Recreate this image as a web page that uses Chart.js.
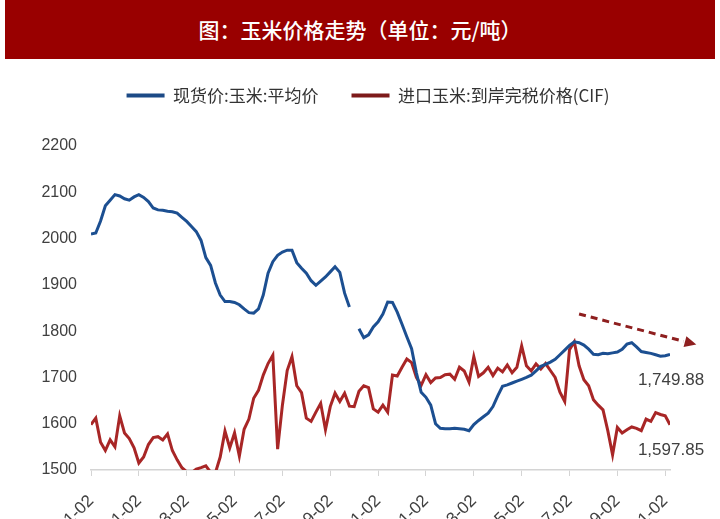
<!DOCTYPE html>
<html>
<head>
<meta charset="utf-8">
<script src="https://cdn.jsdelivr.net/npm/chart.js@4.4.0/dist/chart.umd.min.js"></script>
<style>
    html, body { margin: 0; padding: 0; background: #fff; }
    body { width: 720px; height: 519px; overflow: hidden; }
    .title {
        margin: 0 5px;
        height: 59px;
        background: #990000;
        color: #fff;
        font-family: "Noto Sans CJK SC";
        font-size: 21px;
        font-weight: 500;
        line-height: 59px;
        text-align: center;
    }
    #priceChart { display: block; }
</style>
</head>
<body>
<div class="title">图：玉米价格走势（单位：元/吨）</div>
<canvas id="priceChart" width="720" height="460"></canvas>
<script>
// x ticks every 2 months, 10 samples between two ticks
const tickLabels = ['2015-11-02', '2016-01-02', '2016-03-02', '2016-05-02', '2016-07-02', '2016-09-02', '2016-11-02',
    '2017-01-02', '2017-03-02', '2017-05-02', '2017-07-02', '2017-09-02', '2017-11-02'];
const pointsPerTick = 10;

const seriesNames = ['现货价:玉米:平均价', '进口玉米:到岸完税价格(CIF)'];

const spotPrice = [
    2010, 2012, 2038, 2071, 2083, 2095, 2092, 2086, 2083, 2090,
    2095, 2089, 2080, 2066, 2062, 2061, 2059, 2058, 2055, 2046,
    2037, 2026, 2015, 1996, 1959, 1942, 1904, 1878, 1864, 1864,
    1862, 1857, 1848, 1840, 1839, 1848, 1878, 1925, 1950, 1964,
    1971, 1975, 1975, 1948, 1936, 1925, 1909, 1899, 1908, 1917,
    1928, 1939, 1927, 1882, 1852, null, 1805, 1786, 1792, 1809,
    1820, 1837, 1863, 1862, 1841, 1815, 1788, 1762, 1710, 1668,
    1657, 1640, 1600, 1590, 1589, 1589, 1590, 1589, 1588, 1585,
    1598, 1607, 1615, 1623, 1637, 1660, 1681, 1684, 1688, 1692,
    1696, 1700, 1705, 1714, 1724, 1728, 1733, 1739, 1749, 1759,
    1769, 1777, 1775, 1770, 1761, 1750, 1749, 1752, 1751, 1753,
    1755, 1761, 1772, 1775, 1766, 1756, 1754, 1752, 1749, 1746,
    1747, 1749.88
];

const importPrice = [
    1598, 1612, 1560, 1542, 1565, 1550, 1617, 1580, 1568, 1548,
    1515, 1528, 1555, 1570, 1572, 1565, 1578, 1542, 1522, 1505,
    1496, 1494, 1502, 1505, 1509, 1495, 1494, 1528, 1584, 1548,
    1580, 1530, 1588, 1610, 1655, 1672, 1705, 1730, 1748, 1545,
    1640, 1715, 1745, 1682, 1667, 1612, 1605, 1625, 1644, 1587,
    1637, 1666, 1648, 1666, 1638, 1637, 1670, 1682, 1678, 1632,
    1625, 1640, 1625, 1705, 1703, 1722, 1740, 1732, 1700, 1683,
    1706, 1689, 1699, 1700, 1706, 1707, 1696, 1722, 1714, 1690,
    1745, 1702, 1710, 1722, 1704, 1720, 1712, 1727, 1710, 1722,
    1768, 1725, 1714, 1729, 1718, 1730, 1715, 1700, 1668, 1648,
    1760, 1777, 1725, 1695, 1682, 1652, 1640, 1630, 1585, 1533,
    1592, 1580, 1587, 1593, 1590, 1585, 1610, 1605, 1624, 1620,
    1617, 1597.85
];

// dashed trend arrow, in data units [x index, price]
const trendFrom = [102, 1837];
const trendTo = [126.5, 1771];

const lineColors = ['#1c4f91', '#a82626'];
const legendColors = ['#1c4a86', '#7d1a1a'];
const textColor = '#404040';

const toPoints = values => values.map((v, i) => ({ x: i, y: v }));

// value labels under the last point of each line
const endLabels = {
    id: 'endLabels',
    afterDatasetsDraw(chart) {
        const ctx = chart.ctx;
        ctx.save();
        ctx.font = '17px "Liberation Sans"';
        ctx.fillStyle = textColor;
        ctx.textAlign = 'center';
        ctx.textBaseline = 'middle';
        chart.data.datasets.forEach((ds, i) => {
            const meta = chart.getDatasetMeta(i);
            const last = meta.data[meta.data.length - 1];
            const value = ds.data[ds.data.length - 1].y;
            const text = value.toLocaleString('en-US', { minimumFractionDigits: 2, maximumFractionDigits: 2 });
            ctx.fillText(text, last.x + 1, last.y + 26);
        });
        ctx.restore();
    }
};

const trendArrow = {
    id: 'trendArrow',
    afterDatasetsDraw(chart) {
        const ctx = chart.ctx;
        const xs = chart.scales.x;
        const ys = chart.scales.y;
        const x1 = xs.getPixelForValue(trendFrom[0]);
        const y1 = ys.getPixelForValue(trendFrom[1]);
        const x2 = xs.getPixelForValue(trendTo[0]);
        const y2 = ys.getPixelForValue(trendTo[1]);
        const angle = Math.atan2(y2 - y1, x2 - x1);
        const head = 13;
        ctx.save();
        ctx.strokeStyle = '#8e1f1f';
        ctx.fillStyle = '#8e1f1f';
        ctx.lineWidth = 3;
        ctx.setLineDash([7, 5]);
        ctx.beginPath();
        ctx.moveTo(x1, y1);
        ctx.lineTo(x2 - head * Math.cos(angle), y2 - head * Math.sin(angle));
        ctx.stroke();
        ctx.setLineDash([]);
        ctx.beginPath();
        ctx.moveTo(x2, y2);
        ctx.lineTo(x2 - head * Math.cos(angle - 0.45), y2 - head * Math.sin(angle - 0.45));
        ctx.lineTo(x2 - head * Math.cos(angle + 0.45), y2 - head * Math.sin(angle + 0.45));
        ctx.closePath();
        ctx.fill();
        ctx.restore();
    }
};

// move the legend row to where the reference has it
const legendShift = {
    id: 'legendShift',
    afterLayout(chart) {
        const lg = chart.legend;
        lg.top -= 32;
        lg.bottom -= 32;
        lg.left += 33;
        lg.right += 33;
    }
};

const ctx = document.getElementById('priceChart');
const priceChart = new Chart(ctx, {
    type: 'line',
    data: {
        datasets: [{
            label: seriesNames[0],
            data: toPoints(spotPrice),
            borderColor: lineColors[0],
            backgroundColor: lineColors[0],
            borderWidth: 3,
            pointRadius: 0,
            tension: 0,
            spanGaps: false
        }, {
            label: seriesNames[1],
            data: toPoints(importPrice),
            borderColor: lineColors[1],
            backgroundColor: lineColors[1],
            borderWidth: 3,
            pointRadius: 0,
            tension: 0
        }]
    },
    options: {
        responsive: false,
        animation: false,
        devicePixelRatio: 1,
        layout: {
            padding: { top: 27, right: 50, left: 0, bottom: 0 }
        },
        plugins: {
            legend: {
                position: 'top',
                labels: {
                    boxWidth: 38,
                    boxHeight: 4,
                    padding: 33,
                    color: '#333',
                    font: { family: '"Noto Sans CJK SC"', size: 17 },
                    generateLabels(chart) {
                        const items = Chart.defaults.plugins.legend.labels.generateLabels(chart);
                        items.forEach((item, i) => {
                            item.lineWidth = 0;
                            item.fillStyle = legendColors[i];
                        });
                        return items;
                    }
                }
            },
            tooltip: { enabled: false }
        },
        scales: {
            x: {
                type: 'linear',
                min: 0,
                max: spotPrice.length - 1,
                grid: { drawOnChartArea: false, color: '#d4d4d4', tickLength: 6 },
                border: { color: '#d4d4d4', width: 1.5 },
                ticks: {
                    stepSize: pointsPerTick,
                    includeBounds: false,
                    autoSkip: false,
                    minRotation: 45,
                    maxRotation: 45,
                    padding: 15,
                    color: textColor,
                    font: { family: '"Liberation Sans"', size: 17 },
                    callback: v => tickLabels[v / pointsPerTick]
                },
                afterFit: scale => { scale.height = 49; }
            },
            y: {
                min: 1500,
                max: 2200,
                grid: { display: false, drawTicks: false },
                border: { display: false },
                ticks: {
                    stepSize: 100,
                    padding: 14,
                    color: textColor,
                    font: { family: '"Liberation Sans"', size: 16 },
                    callback: v => String(v)
                },
                afterFit: scale => { scale.width = 91; }
            }
        }
    },
    plugins: [endLabels, trendArrow, legendShift]
});
</script>
</body>
</html>
